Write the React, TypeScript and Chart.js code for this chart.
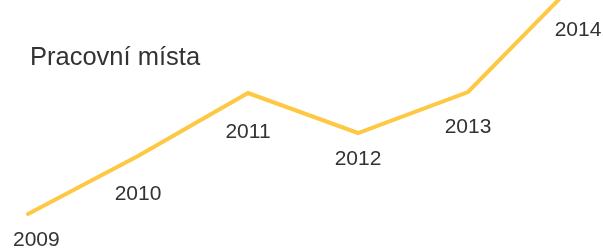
import React, { useEffect, useRef } from "react";
import { Chart, registerables } from "chart.js";

Chart.register(...registerables);

const years = ["2009", "2010", "2011", "2012", "2013", "2014"];
const jobs = [35, 93, 156, 116, 157, 269];
const titleText = "Pracovní místa";

const LINE_COLOR = "#FEC844";
const TEXT_COLOR = "#333333";
const LABEL_FONT = "21px 'Liberation Sans', Arial, sans-serif";

const labelsPlugin = {
  id: "yearLabels",
  afterDatasetsDraw(chart: any) {
    const ctx = chart.ctx;
    const meta = chart.getDatasetMeta(0);
    const pts = meta.data;
    ctx.save();
    ctx.font = LABEL_FONT;
    ctx.fillStyle = TEXT_COLOR;
    ctx.textBaseline = "alphabetic";
    ctx.textAlign = "left";
    const lineYAt = (x: number) => {
      for (let i = 0; i < pts.length - 1; i++) {
        const a = pts[i], b = pts[i + 1];
        if (x >= a.x && x <= b.x) {
          return a.y + ((b.y - a.y) * (x - a.x)) / (b.x - a.x);
        }
      }
      return null;
    };
    pts.forEach((p: any, i: number) => {
      const text = chart.data.labels[i];
      const w = ctx.measureText(text).width;
      const hw = w / 2;
      let maxY = p.y;
      const l = lineYAt(p.x - hw);
      const r = lineYAt(p.x + hw);
      if (l !== null) maxY = Math.max(maxY, l);
      if (r !== null) maxY = Math.max(maxY, r);
      let left = p.x - hw;
      if (left < 13) left = 13;
      if (left + w > chart.width - 1) left = chart.width - 1 - w;
      ctx.fillText(text, left, maxY + 32);
    });
    ctx.restore();
  },
};

const titlePlugin = {
  id: "leftTitle",
  afterDraw(chart: any) {
    const ctx = chart.ctx;
    ctx.save();
    ctx.font = "25.5px 'Liberation Sans', Arial, sans-serif";
    ctx.fillStyle = TEXT_COLOR;
    ctx.textBaseline = "alphabetic";
    ctx.textAlign = "left";
    ctx.fillText(titleText, 30, 65);
    ctx.restore();
  },
};

export default function App() {
  const ref = useRef<HTMLCanvasElement | null>(null);
  useEffect(() => {
    document.body.style.margin = "0";
    if (!ref.current) return;
    const chart = new Chart(ref.current, {
      type: "line",
      data: {
        labels: years,
        datasets: [
          {
            data: jobs,
            borderColor: LINE_COLOR,
            borderWidth: 4,
            borderCapStyle: "round",
            borderJoinStyle: "miter",
            pointRadius: 0,
            pointHoverRadius: 0,
            fill: false,
            tension: 0,
            clip: false as any,
          },
        ],
      },
      options: {
        animation: false,
        responsive: false,
        maintainAspectRatio: false,
        events: [],
        layout: { padding: { left: 28, right: 25, top: 0, bottom: 0 } },
        plugins: {
          legend: { display: false },
          title: { display: false },
          tooltip: { enabled: false },
        },
        scales: {
          x: { type: "category", display: false, offset: false },
          y: { display: false, min: 0, max: 249 },
        },
      },
      plugins: [labelsPlugin, titlePlugin],
    });
    return () => chart.destroy();
  }, []);
  return (
    <div style={{ width: 603, height: 249 }}>
      <canvas ref={ref} width={603} height={249} style={{ display: "block" }} />
    </div>
  );
}
